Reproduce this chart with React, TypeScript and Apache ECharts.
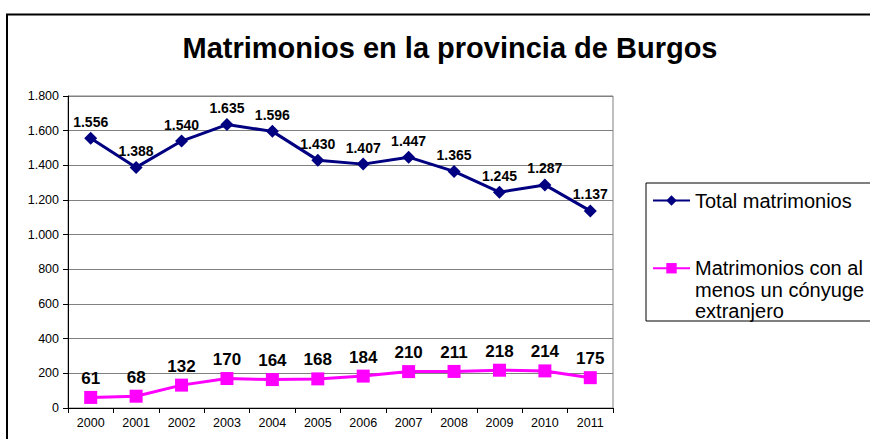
import React, { useEffect, useRef } from "react";
import * as echarts from "echarts";

const years = ["2000", "2001", "2002", "2003", "2004", "2005", "2006", "2007", "2008", "2009", "2010", "2011"];
const totalMatrimonios = [1556, 1388, 1540, 1635, 1596, 1430, 1407, 1447, 1365, 1245, 1287, 1137];
const conExtranjero = [61, 68, 132, 170, 164, 168, 184, 210, 211, 218, 214, 175];
const seriesNames = ["Total matrimonios", "Matrimonios con al menos un cónyuge extranjero"];
const legendLabels = ["Total matrimonios", "\n\nMatrimonios con al\nmenos un cónyuge\nextranjero"];
const titleText = "Matrimonios en la provincia de Burgos";

const FONT = "'Liberation Sans', Arial, sans-serif";
const fmt = (v: number) => String(v).replace(/\B(?=(\d{3})+(?!\d))/g, ".");

export default function App() {
  const ref = useRef<HTMLDivElement>(null);
  useEffect(() => {
    if (!ref.current) return;
    const chart = echarts.init(ref.current, null, { renderer: "svg" });
    chart.setOption({
      animation: false,
      backgroundColor: "#ffffff",
      textStyle: { fontFamily: FONT },
      title: {
        text: titleText,
        left: 445,
        textAlign: "center",
        top: 28,
        textStyle: { fontFamily: FONT, fontSize: 29, fontWeight: "bold", color: "#000" },
      },
      grid: {
        left: 68,
        right: 257,
        top: 96,
        bottom: 31,
        show: true,
        borderColor: "#808080",
        borderWidth: 1,
        backgroundColor: "transparent",
      },
      legend: [
        {
          data: [seriesNames[0]],
          orient: "vertical",
          left: 652,
          top: 190.5,
          padding: 0,
          itemWidth: 37,
          itemHeight: 13,
          formatter: () => legendLabels[0],
          textStyle: { fontFamily: FONT, fontSize: 20, color: "#000" },
        },
        {
          data: [seriesNames[1]],
          orient: "vertical",
          left: 652,
          top: 214.5,
          padding: 0,
          itemWidth: 37,
          itemHeight: 13,
          formatter: () => legendLabels[1],
          textStyle: { fontFamily: FONT, fontSize: 20, lineHeight: 21.5, color: "#000" },
        },
      ],
      xAxis: {
        type: "category",
        data: years,
        boundaryGap: true,
        axisLine: { lineStyle: { color: "#000", width: 1 } },
        axisTick: { show: true, length: 5, lineStyle: { color: "#000" } },
        axisLabel: { fontFamily: FONT, fontSize: 12.5, color: "#000", margin: 8 },
        splitLine: { show: false },
      },
      yAxis: {
        type: "value",
        min: 0,
        max: 1800,
        interval: 200,
        axisLine: { show: true, lineStyle: { color: "#000", width: 1 } },
        axisTick: { show: true, length: 5, lineStyle: { color: "#000" } },
        axisLabel: { fontFamily: FONT, fontSize: 12.5, color: "#000", margin: 9, formatter: (v: number) => fmt(v) },
        splitLine: { show: true, lineStyle: { color: "#808080", width: 1 } },
      },
      series: [
        {
          name: seriesNames[0],
          type: "line",
          data: totalMatrimonios,
          symbol: "diamond",
          symbolSize: 13,
          color: "#000080",
          lineStyle: { color: "#000080", width: 3 },
          itemStyle: { color: "#000080" },
          label: {
            show: true,
            position: "top",
            distance: 3,
            fontFamily: FONT,
            fontSize: 14,
            fontWeight: "bold",
            color: "#000",
            formatter: (p: any) => fmt(p.value),
          },
          z: 3,
        },
        {
          name: seriesNames[1],
          type: "line",
          data: conExtranjero,
          symbol: "rect",
          symbolSize: 13,
          color: "#FF00FF",
          lineStyle: { color: "#FF00FF", width: 3 },
          itemStyle: { color: "#FF00FF" },
          label: {
            show: true,
            position: "top",
            distance: 4,
            fontFamily: FONT,
            fontSize: 17,
            fontWeight: "bold",
            color: "#000",
            formatter: (p: any) => fmt(p.value),
          },
          z: 3,
        },
      ],
      graphic: [
        {
          type: "rect",
          shape: { x: 646, y: 183, width: 300, height: 138 },
          style: { fill: "none", stroke: "#000", lineWidth: 1 },
          silent: true,
          z: 0,
        },
        {
          type: "rect",
          shape: { x: 7, y: 14.5, width: 900, height: 500 },
          style: { fill: "none", stroke: "#000", lineWidth: 2 },
          silent: true,
          z: 0,
        },
      ],
    });
    return () => chart.dispose();
  }, []);
  return <div ref={ref} style={{ position: "fixed", left: 0, top: 0, width: 870, height: 439 }} />;
}
